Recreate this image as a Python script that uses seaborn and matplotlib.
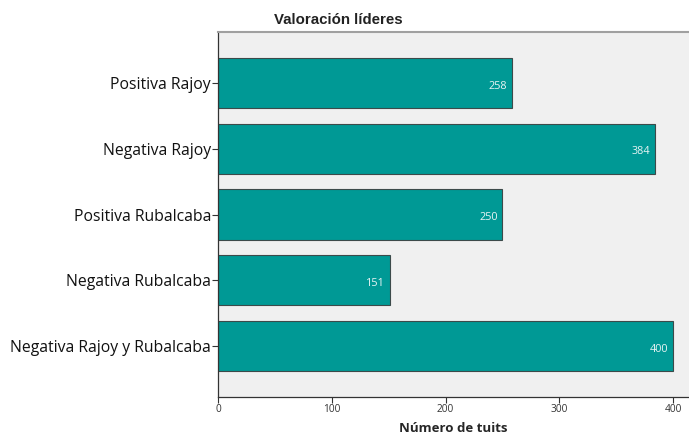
import pandas as pd
import numpy as np
import matplotlib
matplotlib.use("Agg")
import matplotlib.pyplot as plt
import seaborn as sns

# data
categorias = ["Positiva Rajoy", "Negativa Rajoy", "Positiva Rubalcaba",
              "Negativa Rubalcaba", "Negativa Rajoy y Rubalcaba"]
tuits = [258, 384, 250, 151, 400]
ticks_x = [0, 100, 200, 300, 400]

df = pd.DataFrame({"categoria": categorias, "tuits": tuits})

sns.set_style("white")
plt.rcParams['font.family'] = ['Liberation Sans', 'DejaVu Sans']

fig = plt.figure(figsize=(6.89, 4.36), dpi=100)
ax = fig.add_axes([0.3164, 0.0894, 0.6836, 0.8372])
ax.set_facecolor("#f0f0f0")

sns.barplot(data=df, x="tuits", y="categoria", orient="h", color="#009995",
            saturation=1, width=0.76, edgecolor="#3c4a4a", linewidth=0.8, ax=ax)

for bar, v in zip(ax.patches, tuits):
    ax.text(bar.get_width() - 4, bar.get_y() + bar.get_height() / 2 + 0.05,
            str(v), color="#e8f4f4", ha="right", va="center", fontsize=7.8,
            family=["Open Sans", "DejaVu Sans"])

ax.set_xlim(0, 414)
ax.set_ylim(4.77, -0.77)
ax.set_xticks(ticks_x)
ax.set_xticklabels([str(t) for t in ticks_x], fontsize=7.3, color="#333333",
                   family=["Open Sans", "DejaVu Sans"])
ax.set_yticks(range(len(categorias)))
ax.set_yticklabels(categorias, fontsize=11.3, color="#111111", fontweight="medium",
                   family=["Open Sans", "DejaVu Sans"])
ax.tick_params(axis="both", direction="out", length=4, width=0.8,
               color="#333333", left=True, bottom=True, pad=1)
ax.set_ylabel("")
ax.set_xlabel("Número de tuits", fontsize=9.5, fontweight="bold", labelpad=5,
              family=["Open Sans", "DejaVu Sans"])

for s in ["left", "bottom"]:
    ax.spines[s].set_color("#333333")
    ax.spines[s].set_linewidth(0.9)
ax.spines["top"].set_color("#a0a0a0")
ax.spines["top"].set_linewidth(1.5)
ax.spines["right"].set_visible(False)

fig.text(338 / 689, 1 - 20 / 436, "Valoración líderes", ha="center", va="center",
         fontsize=10.8, fontweight="bold", color="#222222")

fig.savefig("out.png", dpi=100)
